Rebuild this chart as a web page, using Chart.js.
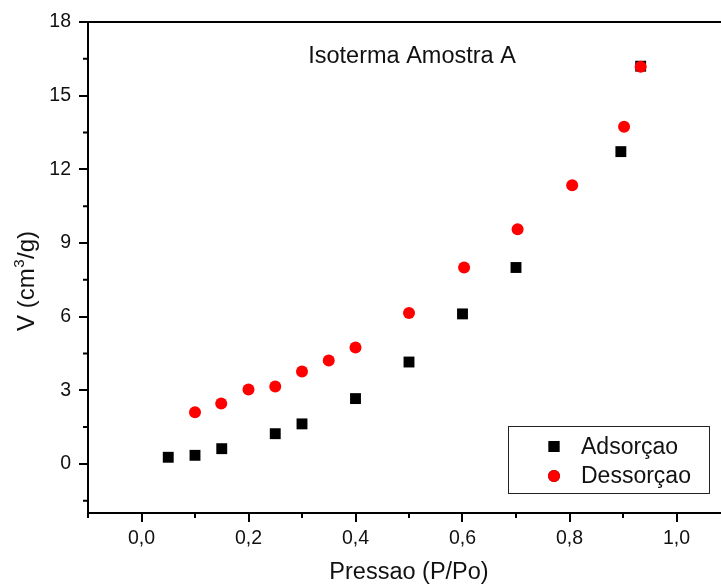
<!DOCTYPE html>
<html>
<head>
<meta charset="utf-8">
<script src="https://cdn.jsdelivr.net/npm/chart.js@4.4.1/dist/chart.umd.min.js"></script>
<style>
  html, body { margin: 0; padding: 0; background: #fff; overflow: hidden; }
  #wrap { width: 721px; height: 587px; overflow: hidden; }
</style>
</head>
<body>
<div id="wrap"><canvas id="chart" width="740" height="587"></canvas></div>
<script>
// data
const adsX = [0.05, 0.10, 0.15, 0.25, 0.30, 0.40, 0.50, 0.60, 0.70, 0.896, 0.933]
const adsY = [0.27, 0.35, 0.62, 1.23, 1.63, 2.66, 4.15, 6.11, 8.0, 12.72, 16.2]
const desX = [0.10, 0.149, 0.20, 0.25, 0.30, 0.35, 0.40, 0.50, 0.603, 0.703, 0.805, 0.902, 0.933]
const desY = [2.10, 2.46, 3.03, 3.15, 3.76, 4.21, 4.74, 6.15, 8.0, 9.56, 11.35, 13.73, 16.18]

const xTicks = [0.0, 0.2, 0.4, 0.6, 0.8, 1.0]
const xMinor = [-0.1, 0.1, 0.3, 0.5, 0.7, 0.9, 1.1]
const yTicks = [0, 3, 6, 9, 12, 15, 18]
const yMinor = [-1.5, 1.5, 4.5, 7.5, 10.5, 13.5, 16.5]

const FONT = "'Liberation Sans', Arial, sans-serif"

const toPoints = (xs, ys) => xs.map((x, i) => ({ x: x, y: ys[i] }))

// minor ticks, frame, title inside plot, y title and legend box
const extras = {
    id: 'extras',
    afterDraw(chart){
        const ctx = chart.ctx
        const area = chart.chartArea
        const sx = chart.scales.x
        const sy = chart.scales.y
        ctx.save()
        ctx.strokeStyle = '#000'
        ctx.lineWidth = 2
        ctx.beginPath()
        xMinor.forEach(v => {
            const px = sx.getPixelForValue(v)
            ctx.moveTo(px, area.bottom)
            ctx.lineTo(px, area.bottom + 5)
        })
        yMinor.forEach(v => {
            const py = sy.getPixelForValue(v)
            ctx.moveTo(area.left - 5, py)
            ctx.lineTo(area.left, py)
        })
        // top and right frame
        ctx.moveTo(area.left, area.top)
        ctx.lineTo(area.right, area.top)
        ctx.lineTo(area.right, area.bottom)
        ctx.stroke()

        ctx.fillStyle = '#111'
        ctx.font = '23.5px ' + FONT
        ctx.textAlign = 'center'
        ctx.textBaseline = 'alphabetic'
        ctx.fillText('Isoterma Amostra A', 412, 63)

        // y axis title, with a raised 3
        ctx.save()
        ctx.translate(34, 281)
        ctx.rotate(-Math.PI / 2)
        ctx.textAlign = 'left'
        const big = '24px ' + FONT
        const small = '15px ' + FONT
        ctx.font = big
        const w1 = ctx.measureText('V (cm').width
        const w3 = ctx.measureText('/g)').width
        ctx.font = small
        const w2 = ctx.measureText('3').width + 1
        let x0 = -(w1 + w2 + w3) / 2
        ctx.font = big
        ctx.fillText('V (cm', x0, 0)
        ctx.font = small
        ctx.fillText('3', x0 + w1 + 0.5, -10)
        ctx.font = big
        ctx.fillText('/g)', x0 + w1 + w2, 0)
        ctx.restore()

        // legend
        ctx.font = '23px ' + FONT
        ctx.strokeStyle = '#222'
        ctx.lineWidth = 1
        ctx.strokeRect(508.5, 426.5, 201, 67)
        const rows = [
            { ds: chart.data.datasets[1], y: 446.5, base: 454 },
            { ds: chart.data.datasets[0], y: 476, base: 483.3 },
        ]
        rows.forEach(r => {
            Chart.helpers.drawPoint(ctx, {
                pointStyle: r.ds.pointStyle,
                radius: r.ds.pointRadius,
                borderWidth: 0,
            }, 554, r.y)
            ctx.fillStyle = r.ds.backgroundColor
            ctx.fill()
            ctx.fillStyle = '#111'
            ctx.textAlign = 'left'
            ctx.fillText(r.ds.label, 581, r.base)
        })
        ctx.restore()
    }
}

new Chart(document.getElementById('chart'), {
    type: 'scatter',
    data: {
        datasets: [
            {
                label: 'Dessorçao',
                data: toPoints(desX, desY),
                pointStyle: 'circle',
                pointRadius: 6,
                pointHoverRadius: 6,
                backgroundColor: '#ff0000',
                borderWidth: 0,
                order: 0,
            },
            {
                label: 'Adsorçao',
                data: toPoints(adsX, adsY),
                pointStyle: 'rect',
                pointRadius: 7.7,
                pointHoverRadius: 7.7,
                backgroundColor: '#000000',
                borderWidth: 0,
                order: 1,
            },
        ]
    },
    options: {
        responsive: false,
        animation: false,
        events: [],
        layout: { padding: { top: 22, right: 10, left: 0, bottom: 0 } },
        plugins: {
            legend: { display: false },
            tooltip: { enabled: false },
            title: { display: false },
        },
        scales: {
            x: {
                type: 'linear',
                min: -0.1,
                max: 1.1,
                afterBuildTicks: s => { s.ticks = xTicks.map(v => ({ value: v })) },
                afterFit: s => { s.height = 74 },
                border: { color: '#000', width: 2 },
                grid: { drawOnChartArea: false, drawTicks: true, tickLength: 9, tickColor: '#000', tickWidth: 2, lineWidth: 2 },
                ticks: {
                    color: '#111',
                    padding: 5,
                    maxRotation: 0,
                    font: { family: FONT, size: 19.5 },
                    callback: v => v.toFixed(1).replace('.', ','),
                },
                title: {
                    display: true,
                    text: 'Pressao (P/Po)',
                    color: '#111',
                    font: { family: FONT, size: 23.5 },
                    padding: { top: 0, bottom: 0 },
                },
            },
            y: {
                type: 'linear',
                min: -2,
                max: 18,
                afterBuildTicks: s => { s.ticks = yTicks.map(v => ({ value: v })) },
                afterFit: s => { s.width = 88 },
                border: { color: '#000', width: 2 },
                grid: { drawOnChartArea: false, drawTicks: true, tickLength: 9, tickColor: '#000', tickWidth: 2, lineWidth: 2 },
                ticks: {
                    color: '#111',
                    padding: 8,
                    font: { family: FONT, size: 19.5 },
                    callback: v => String(v),
                },
            },
        },
    },
    plugins: [extras],
})
</script>
</body>
</html>
